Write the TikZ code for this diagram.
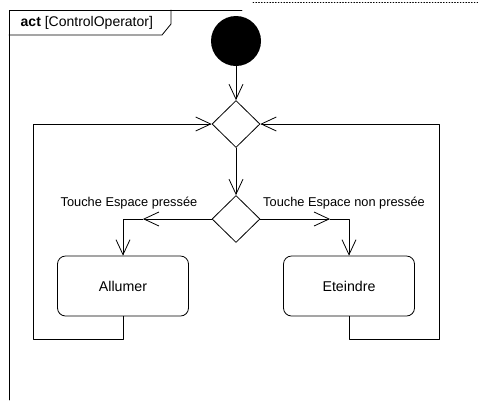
\documentclass[tikz,border=0pt]{standalone}
\usepackage{fontspec}
\setmainfont{Liberation Sans}
\usetikzlibrary{shapes.geometric,arrows.meta}
\begin{document}
\begin{tikzpicture}[x=1pt,y=-1pt,line cap=round,line join=round,
  every node/.style={font=\fontsize{12.8}{15}\selectfont},
  trait/.style={line width=0.8pt},
  flow/.style={trait,-{Straight Barb[length=15pt,width=14pt]}},
  action/.style={draw,trait,rounded corners=8pt,minimum width=131pt,minimum height=60pt,
    font=\fontsize{14.2}{17}\selectfont},
  branch/.style={draw,trait,diamond,inner sep=0pt,minimum width=48pt,minimum height=47pt}]
  \useasboundingbox (0,0) rectangle (478,400);
  % cadre
  \draw[trait] (9,400) -- (9,10) -- (242,10);
  \draw[trait] (9,35) -- (162,35) -- (171,24) -- (171,10);
  \node[anchor=west,inner sep=0pt,font=\fontsize{14}{16}\selectfont] (titre) at (20.5,23)
    {\textbf{act} [ControlOperator]};
  \draw[trait,dotted] (253,2) -- (478,2);
  % noeuds
  \node[circle,fill=black,minimum size=50pt,inner sep=0pt] (debut) at (236,41) {};
  \node[branch] (fusion) at (236,124) {};
  \node[branch] (choix) at (236,219) {};
  \node[action] (allumer) at (123,286) {Allumer};
  \node[action] (eteindre) at (349,286) {Eteindre};
  \node (gauche) at (129,203) {Touche Espace press\'ee};
  \node (droite) at (344,203) {Touche Espace non press\'ee};
  \draw[flow] (debut) -- (fusion);
  \draw[flow] (fusion) -- (choix);
  % branches et retours
  \foreach \cote/\act/\xm/\xr in {west/allumer/143/33,east/eteindre/330/439} {
    \coordinate (m-\act) at (\xm,219);
    \coordinate (r-\act) at (\xr,339);
    \draw[flow] (choix.\cote) -- (m-\act);
    \draw[flow] (m-\act) -| (\act.north);
    \draw[flow] (\act.south) |- (r-\act) |- (fusion.\cote);
  }
\end{tikzpicture}
\end{document}
